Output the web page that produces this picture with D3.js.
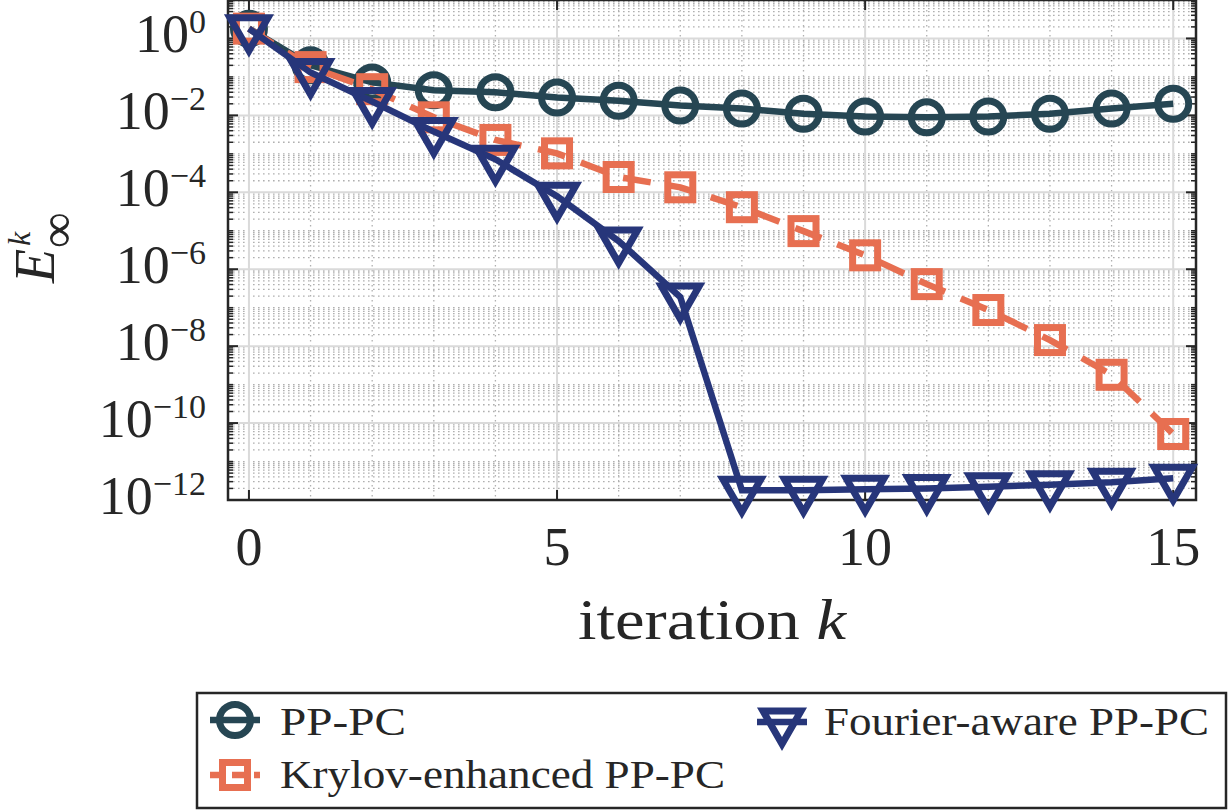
<!DOCTYPE html>
<html>
<head>
<meta charset="utf-8">
<script src="https://cdn.jsdelivr.net/npm/d3@7/dist/d3.min.js"></script>
<style>
	body { margin: 0; background: #fff; }
	text { font-family: "Liberation Serif", "Times New Roman", serif; fill: #262626; }
</style>
</head>
<body>
<svg id="chart" width="1229" height="810"></svg>
<script>
// data: error E_inf^k per iteration
var iterations = [0, 1, 2, 3, 4, 5, 6, 7, 8, 9, 10, 11, 12, 13, 14, 15];
var ppPC = [1.8, 0.2, 0.072, 0.045, 0.04, 0.029, 0.024, 0.018, 0.015, 0.011, 0.0093, 0.0089, 0.0093, 0.011, 0.015, 0.020];
var krylovPC = [1.8, 0.18, 0.048, 0.0089, 0.0023, 0.00103, 2.5e-4, 1.35e-4, 4.1e-5, 9.8e-6, 2.3e-6, 4.1e-7, 8.7e-8, 1.44e-8, 1.8e-9, 5.2e-11];
var fourierPC = [1.8, 0.13, 0.023, 0.0038, 7.2e-4, 7.9e-5, 5.4e-6, 1.9e-7, 1.8e-12, 1.8e-12, 1.9e-12, 2.0e-12, 2.2e-12, 2.5e-12, 2.9e-12, 3.7e-12];
var seriesNames = ["PP-PC", "Krylov-enhanced PP-PC", "Fourier-aware PP-PC"];
var xTicks = [0, 5, 10, 15];
var yTickExps = [0, -2, -4, -6, -8, -10, -12];

var svg = d3.select("#chart");
svg.append("rect").attr("width", 1229).attr("height", 810).attr("fill", "#fff");

// plot box (note: "top" is taken by window.top, so prefixed names)
var pLeft = 228, pRight = 1196, pTop = 0, pBottom = 500;
var x = d3.scaleLinear().domain([-0.34, 15.37]).range([pLeft, pRight]);
var y = d3.scaleLog().domain([1e-12, 10]).range([pBottom, pTop]);

// minor positions of the log axis (2..9 of each decade, plus the odd decades)
var yMinor = [];
for (var e = -12; e <= 0; e++) {
	for (var m = 2; m <= 9; m++) { yMinor.push(m * Math.pow(10, e)); }
	if (e % 2 !== 0) { yMinor.push(Math.pow(10, e)); }
}
var yMajor = yTickExps.map(function(e){ return Math.pow(10, e); });
var xMinor = iterations.filter(function(k){ return k % 5 !== 0; });

// grid
var grid = svg.append("g").attr("class", "grid");
grid.selectAll(".minor-h").data(yMinor).enter().append("line")
	.attr("class", "minor-h")
	.attr("x1", pLeft).attr("x2", pRight)
	.attr("y1", function(d){ return y(d); }).attr("y2", function(d){ return y(d); })
	.attr("stroke", "#b0b0b0").attr("stroke-width", 1.3)
	.attr("stroke-dasharray", "1.6,3.4");
grid.selectAll(".minor-v").data(xMinor).enter().append("line")
	.attr("class", "minor-v")
	.attr("x1", function(d){ return x(d); }).attr("x2", function(d){ return x(d); })
	.attr("y1", pTop).attr("y2", pBottom)
	.attr("stroke", "#b0b0b0").attr("stroke-width", 1.3)
	.attr("stroke-dasharray", "1.6,3.4");
grid.selectAll(".major-h").data(yMajor).enter().append("line")
	.attr("class", "major-h")
	.attr("x1", pLeft).attr("x2", pRight)
	.attr("y1", function(d){ return y(d); }).attr("y2", function(d){ return y(d); })
	.attr("stroke", "#dadada").attr("stroke-width", 2);
grid.selectAll(".major-v").data(xTicks).enter().append("line")
	.attr("class", "major-v")
	.attr("x1", function(d){ return x(d); }).attr("x2", function(d){ return x(d); })
	.attr("y1", pTop).attr("y2", pBottom)
	.attr("stroke", "#dadada").attr("stroke-width", 2);

// axes box and ticks on all four sides
var axes = svg.append("g").attr("class", "axes").attr("stroke", "#262626");
axes.append("rect")
	.attr("x", pLeft).attr("y", pTop)
	.attr("width", pRight - pLeft).attr("height", pBottom - pTop)
	.attr("fill", "none").attr("stroke-width", 2.5);
xTicks.forEach(function(t){
	axes.append("line").attr("x1", x(t)).attr("x2", x(t)).attr("y1", pBottom).attr("y2", pBottom - 10).attr("stroke-width", 2);
	axes.append("line").attr("x1", x(t)).attr("x2", x(t)).attr("y1", pTop).attr("y2", pTop + 10).attr("stroke-width", 2);
});
yMajor.forEach(function(v){
	axes.append("line").attr("x1", pLeft).attr("x2", pLeft + 10).attr("y1", y(v)).attr("y2", y(v)).attr("stroke-width", 2);
	axes.append("line").attr("x1", pRight).attr("x2", pRight - 10).attr("y1", y(v)).attr("y2", y(v)).attr("stroke-width", 2);
});
yMinor.forEach(function(v){
	axes.append("line").attr("x1", pLeft).attr("x2", pLeft + 5).attr("y1", y(v)).attr("y2", y(v)).attr("stroke-width", 1.5);
	axes.append("line").attr("x1", pRight).attr("x2", pRight - 5).attr("y1", y(v)).attr("y2", y(v)).attr("stroke-width", 1.5);
});

// tick labels
var xLab = svg.append("g").attr("class", "x-labels");
xTicks.forEach(function(t){
	xLab.append("text")
		.attr("x", x(t)).attr("y", 565)
		.attr("text-anchor", "middle").attr("font-size", 54)
		.text(t);
});
var yLab = svg.append("g").attr("class", "y-labels");
yTickExps.forEach(function(e){
	var t = yLab.append("text")
		.attr("x", 206).attr("y", y(Math.pow(10, e)) + 14)
		.attr("text-anchor", "end");
	t.append("tspan").attr("font-size", 54).text("10");
	t.append("tspan").attr("font-size", 34).attr("dy", -19)
		.text(e === 0 ? "0" : "\u2212" + (-e));
});

// axis titles
var xt = svg.append("text")
	.attr("x", 712).attr("y", 639)
	.attr("text-anchor", "middle").attr("font-size", 56)
	.attr("textLength", 268).attr("lengthAdjust", "spacingAndGlyphs");
xt.append("tspan").text("iteration ");
xt.append("tspan").attr("font-style", "italic").text("k");

var yt = svg.append("g").attr("transform", "translate(54,283) rotate(-90)");
yt.append("text").attr("x", 0).attr("y", 0).attr("font-size", 56).attr("font-style", "italic").text("E");
yt.append("text").attr("x", 37).attr("y", -24).attr("font-size", 32).attr("font-style", "italic").text("k");
yt.append("text").attr("x", 35).attr("y", 20).attr("font-size", 50).text("\u221e");

// series
var series = [
	{ name: seriesNames[0], values: ppPC, color: "#264653", dash: null, marker: "circle" },
	{ name: seriesNames[1], values: krylovPC, color: "#e76f51", dash: "28,17", marker: "square" },
	{ name: seriesNames[2], values: fourierPC, color: "#27367a", dash: null, marker: "triangle" }
];

function add_marker(g, type, color) {
	var s;
	if (type === "circle") {
		s = g.append("circle").attr("r", 15.5);
	} else if (type === "square") {
		s = g.append("rect").attr("x", -12.5).attr("y", -12.5).attr("width", 25).attr("height", 25);
	} else {
		s = g.append("path").attr("d", "M-19,-11L19,-11L0,22Z");
	}
	s.attr("fill", "none").attr("stroke", color).attr("stroke-width", 7)
		.attr("stroke-linejoin", "miter");
	return s;
}

var line = d3.line()
	.x(function(d, i){ return x(iterations[i]); })
	.y(function(d){ return y(d); });

var plot = svg.append("g").attr("class", "plot");
series.forEach(function(s){
	var g = plot.append("g").attr("class", "series");
	g.append("path")
		.datum(s.values)
		.attr("d", line)
		.attr("fill", "none")
		.attr("stroke", s.color)
		.attr("stroke-width", 6.5)
		.attr("stroke-dasharray", s.dash);
	s.values.forEach(function(v, i){
		var mg = g.append("g").attr("transform", "translate(" + x(iterations[i]) + "," + y(v) + ")");
		add_marker(mg, s.marker, s.color);
	});
});

// legend
var legend = svg.append("g").attr("class", "legend");
legend.append("rect")
	.attr("x", 197).attr("y", 693).attr("width", 1029).attr("height", 115)
	.attr("fill", "#fff").attr("stroke", "#262626").attr("stroke-width", 2.5);
var legendPos = [
	{ mx: 235, my: 720, tx: 280, ty: 735, w: 126 },
	{ mx: 235, my: 775, tx: 280, ty: 788, w: 445 },
	{ mx: 782, my: 722, tx: 824, ty: 735, w: 385 }
];
series.forEach(function(s, i){
	var p = legendPos[i];
	legend.append("line")
		.attr("x1", p.mx - 25).attr("x2", p.mx + 25)
		.attr("y1", p.my).attr("y2", p.my)
		.attr("stroke", s.color).attr("stroke-width", 6.5)
		.attr("stroke-dasharray", s.dash ? "14,8" : null);
	var mg = legend.append("g").attr("transform", "translate(" + p.mx + "," + p.my + ")");
	add_marker(mg, s.marker, s.color);
	legend.append("text")
		.attr("x", p.tx).attr("y", p.ty)
		.attr("font-size", 40)
		.attr("textLength", p.w).attr("lengthAdjust", "spacingAndGlyphs")
		.text(s.name);
});
</script>
</body>
</html>
